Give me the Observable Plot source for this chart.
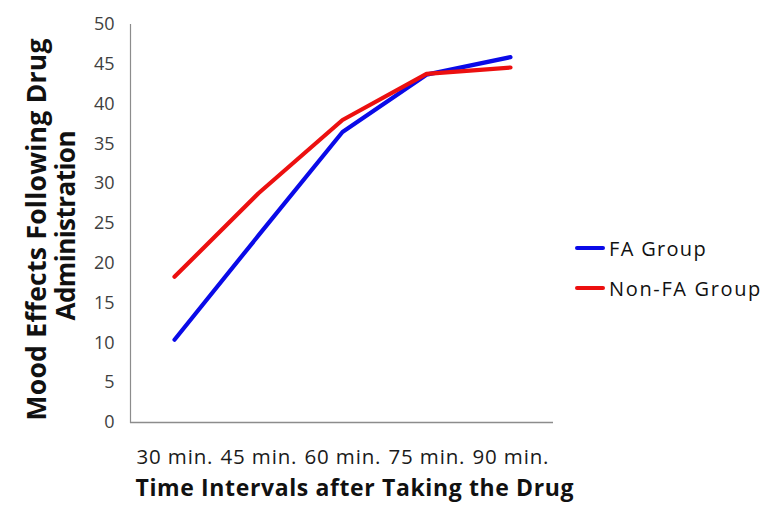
<!DOCTYPE html>
<html>
<head>
<meta charset="utf-8">
<script src="https://cdn.jsdelivr.net/npm/d3@7"></script>
<script src="https://cdn.jsdelivr.net/npm/@observablehq/plot@0.6"></script>
<style>
  html, body { margin: 0; padding: 0; background: #fff; }
  #wrap { position: relative; width: 783px; height: 526px; font-family: "Open Sans", sans-serif; }
  #legend { position: absolute; left: 575px; top: 228px; font-size: 20px; color: #111; }
  .item { display: flex; align-items: center; height: 40px; white-space: nowrap; }
  .swatch { width: 30px; height: 4px; margin-right: 4px; border-radius: 2px; flex: none; }
</style>
</head>
<body>
<div id="wrap"></div>
<script>
const categories = ["30 min.", "45 min.", "60 min.", "75 min.", "90 min."];
const faGroup = [10.4, 23.5, 36.5, 43.7, 45.9];
const nonFaGroup = [18.3, 28.8, 38.0, 43.8, 44.6];
const seriesNames = ["FA Group", "Non-FA Group"];
const seriesColors = ["#0a0ae8", "#ec1010"];
const yTicks = [0, 5, 10, 15, 20, 25, 30, 35, 40, 45, 50];
const yTitle = ["Mood Effects Following Drug", "Administration"];
const xTitle = "Time Intervals after Taking the Drug";

const data = [];
categories.forEach((c, i) => {
  data.push({time: c, value: faGroup[i], series: seriesNames[0]});
  data.push({time: c, value: nonFaGroup[i], series: seriesNames[1]});
});

const chart = Plot.plot({
  width: 783,
  height: 526,
  marginLeft: 130,
  marginRight: 230,
  marginTop: 24,
  marginBottom: 104,
  style: {fontFamily: "'Open Sans', sans-serif", background: "#fff"},
  x: {type: "point", domain: categories, padding: 0.5, label: null},
  y: {domain: [0, 50], label: null},
  color: {domain: seriesNames, range: seriesColors},
  marks: [
    Plot.axisY({ticks: yTicks, tickSize: 0, tickPadding: 16, fontSize: 18, fill: "#404040", label: null}),
    Plot.axisX({tickSize: 0, tickPadding: 27, fontSize: 20.5, fill: "#1a1a1a", label: null}),
    Plot.frame({anchor: "left", stroke: "#8c8c8c", strokeWidth: 1.2}),
    Plot.ruleY([0], {stroke: "#8c8c8c", strokeWidth: 1.5}),
    Plot.line(data, {x: "time", y: "value", z: "series", stroke: "series", strokeWidth: 4.2, strokeLinecap: "round", strokeLinejoin: "round"}),
    Plot.text([yTitle[0]], {frameAnchor: "left", textAnchor: "middle", rotate: -90, dx: -93, dy: 6, fontSize: 26.5, fontWeight: "bold", fill: "#111"}),
    Plot.text([yTitle[1]], {frameAnchor: "left", textAnchor: "middle", rotate: -90, dx: -64, dy: 2, fontSize: 26, fontWeight: "bold", fill: "#111"}),
    Plot.text([xTitle], {frameAnchor: "bottom", dy: 73, dx: 12.5, fontSize: 23, fontWeight: "bold", fill: "#111"})
  ]
});

const wrap = document.getElementById("wrap");
wrap.appendChild(chart);

// fit text extents to the reference's measured lengths
const fits = new Map([[yTitle[0], 382], [yTitle[1], 190], [xTitle, 438]]);
categories.forEach(c => fits.set(c, 76));
chart.querySelectorAll("text").forEach(t => {
  const s = t.textContent;
  if (fits.has(s)) {
    t.setAttribute("textLength", fits.get(s));
    t.setAttribute("lengthAdjust", "spacing");
  }
});

const legend = document.createElement("div");
legend.id = "legend";
const legendWidths = [98, 153];
seriesNames.forEach((n, i) => {
  const item = document.createElement("div");
  item.className = "item";
  const sw = document.createElement("span");
  sw.className = "swatch";
  sw.style.background = seriesColors[i];
  const label = document.createElement("span");
  label.textContent = n;
  item.appendChild(sw);
  item.appendChild(label);
  legend.appendChild(item);
});
wrap.appendChild(legend);
legend.querySelectorAll(".item span:last-child").forEach((sp, i) => {
  const w = sp.getBoundingClientRect().width;
  sp.style.letterSpacing = ((legendWidths[i] - w) / sp.textContent.length) + "px";
});
</script>
</body>
</html>
